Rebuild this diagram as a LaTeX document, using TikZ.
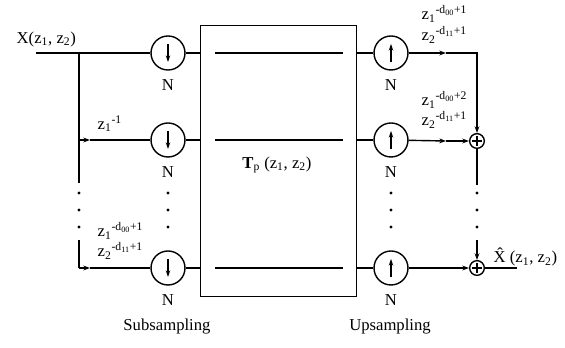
\documentclass[tikz,border=0pt]{standalone}
\usepackage{fontspec}
\setmainfont{Liberation Serif}
\usetikzlibrary{arrows.meta,calc}
\newcommand{\zsub}[1]{z\textsubscript{#1}}
\begin{document}
\begin{tikzpicture}[x=0.75pt,y=-0.75pt,line width=1.05pt,
  lbl/.style={font=\fontsize{12.5}{14}\selectfont, inner sep=0pt},
  samp/.style={circle, draw, minimum size=25.5pt, inner sep=0pt},
  adder/.style={circle, draw, minimum size=11pt, inner sep=0pt},
  arr/.style={-{Stealth[length=5pt,width=3.6pt]}},
  inarr/.style={line width=0.9pt,-{Stealth[length=5pt,width=3.4pt]}},
  dotnode/.style={circle, fill, minimum size=2.6pt, inner sep=0pt}]
\useasboundingbox (0,0) rectangle (565,348);

% input
\node[lbl, anchor=west] (xin) at (16,39) {X(\zsub{1}, \zsub{2})};
\coordinate (in) at (36,53);
\coordinate (br1) at (79,53);
\coordinate (br2) at (79,140);
\coordinate (brA) at (79,183);
\coordinate (brB) at (79,240);
\coordinate (br3) at (79,268);
\coordinate (l2) at (90,140);
\coordinate (l3) at (90,268);

% down samplers
\node[samp] (d1) at (168,53) {};
\node[samp] (d2) at (168,140) {};
\node[samp] (d3) at (168,268) {};
\foreach \n in {d1,d2,d3}{
  \draw[inarr] ($(\n)+(0,-9)$) -- ($(\n)+(0,9)$);
  \node[lbl] (N\n) at ($(\n)+(0,32)$) {N};
}

% box
\node[draw, minimum width=117pt, minimum height=203pt, inner sep=0pt] (box) at (278.5,161) {};
\draw (215,53) -- (343,53);
\draw (215,140) -- (343,140);
\draw (215,268) -- (343,268);
\node[lbl] (tp) at (277,165) {\textbf{T}\textsubscript{p} (\zsub{1}, \zsub{2})};

% up samplers
\node[samp] (u1) at (391,53) {};
\node[samp] (u2) at (391,140) {};
\node[samp] (u3) at (391,268) {};
\foreach \n in {u1,u2,u3}{
  \draw[inarr] ($(\n)+(0,9)$) -- ($(\n)+(0,-9)$);
  \node[lbl] (N\n) at ($(\n)+(0,32)$) {N};
}

% adders
\node[adder] (a2) at (477,141) {};
\node[adder] (a3) at (477,268) {};
\foreach \n in {a2,a3}{
  \draw[line width=0.9pt] ($(\n)+(-5,0)$) -- ($(\n)+(5,0)$);
  \draw[line width=0.9pt] ($(\n)+(0,-5)$) -- ($(\n)+(0,5)$);
}
\coordinate (m1) at (446,53);
\coordinate (m2) at (446,141);
\coordinate (rA) at (477,185);
\coordinate (rB) at (477,240);
\coordinate (out) at (517,268);

% left connectors
\draw (in) -- (d1);
\draw (br1) -- (brA);
\draw[arr] (br2) -- (l2);
\draw (l2) -- (d2);
\draw (brB) -- (br3);
\draw[arr] (br3) -- (l3);
\draw (l3) -- (d3);

% into / out of box
\draw (d1) -- (d1 -| box.west);
\draw (d2) -- (d2 -| box.west);
\draw (d3) -- (d3 -| box.west);
\draw (box.east |- u1) -- (u1);
\draw (box.east |- u2) -- (u2);
\draw (box.east |- u3) -- (u3);

% right connectors
\draw[arr] (u1) -- (m1);
\draw[arr] (m1) -| (a2);
\draw[arr] (u2) -- (m2);
\draw[arr] (m2) -- (a2);
\draw (a2) -- (rA);
\draw[arr] (rB) -- (a3);
\draw[arr] (u3) -- (a3);
\draw (a3) -- (out);

% dots
\foreach \x in {79,168,391,477}{
  \foreach \y in {193,210,227}{
    \node[dotnode] at (\x,\y) {};
  }
}

% labels
\node[lbl, anchor=west] (lz1) at (97,124) {\zsub{1}\textsuperscript{-1}};
\node[lbl, anchor=west] (lb1) at (97,231) {\zsub{1}\textsuperscript{-d\textsubscript{00}+1}};
\node[lbl, anchor=west] (lb2) at (97,251) {\zsub{2}\textsuperscript{-d\textsubscript{11}+1}};
\node[lbl, anchor=west] (rt1) at (421,14) {\zsub{1}\textsuperscript{-d\textsubscript{00}+1}};
\node[lbl, anchor=west] (rt2) at (421,35) {\zsub{2}\textsuperscript{-d\textsubscript{11}+1}};
\node[lbl, anchor=west] (rm1) at (421,100) {\zsub{1}\textsuperscript{-d\textsubscript{00}+2}};
\node[lbl, anchor=west] (rm2) at (421,120) {\zsub{2}\textsuperscript{-d\textsubscript{11}+1}};
\node[lbl, anchor=west] (xout) at (493,257) {\^X (\zsub{1}, \zsub{2})};
\node[lbl] (sub) at (167,327) {Subsampling};
\node[lbl] (up) at (390,327) {Upsampling};
\end{tikzpicture}
\end{document}
